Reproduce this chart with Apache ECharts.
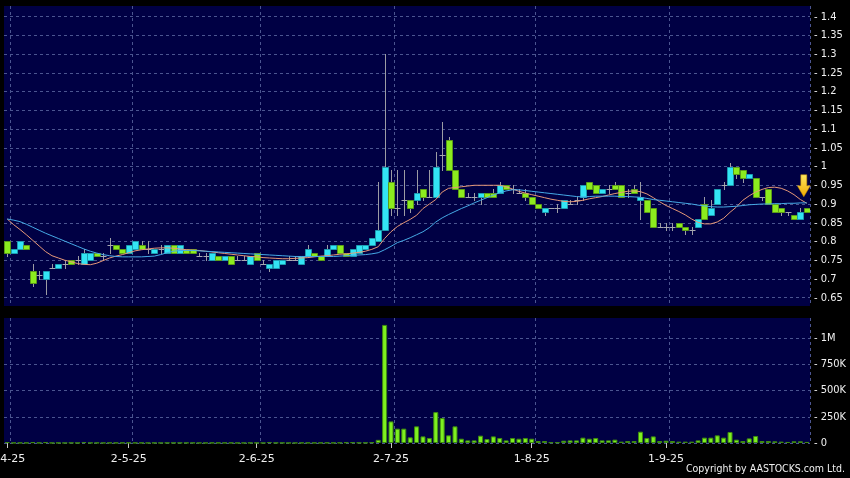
<!DOCTYPE html>
<html><head><meta charset="utf-8">
<script src="https://cdn.jsdelivr.net/npm/echarts@6/dist/echarts.min.js"></script>
<style>html,body{margin:0;padding:0;background:#000;}#c{width:850px;height:478px;}</style>
</head><body><div id="c"></div>
<script>
const dates = [
'1-4-25','2-4-25','3-4-25','7-4-25','8-4-25','9-4-25','10-4-25','11-4-25','14-4-25','15-4-25','16-4-25','17-4-25','22-4-25','23-4-25','24-4-25','25-4-25','28-4-25','29-4-25','30-4-25',
'2-5-25','6-5-25','7-5-25','8-5-25','9-5-25','12-5-25','13-5-25','14-5-25','15-5-25','16-5-25','19-5-25','20-5-25','21-5-25','22-5-25','23-5-25','26-5-25','27-5-25','28-5-25','29-5-25','30-5-25',
'2-6-25','3-6-25','4-6-25','5-6-25','6-6-25','9-6-25','10-6-25','11-6-25','12-6-25','13-6-25','16-6-25','17-6-25','18-6-25','19-6-25','20-6-25','23-6-25','24-6-25','25-6-25','26-6-25','27-6-25','30-6-25',
'2-7-25','3-7-25','4-7-25','7-7-25','8-7-25','9-7-25','10-7-25','11-7-25','14-7-25','15-7-25','16-7-25','17-7-25','18-7-25','21-7-25','22-7-25','23-7-25','24-7-25','25-7-25','28-7-25','29-7-25','30-7-25','31-7-25',
'1-8-25','4-8-25','5-8-25','6-8-25','7-8-25','8-8-25','11-8-25','12-8-25','13-8-25','14-8-25','15-8-25','18-8-25','19-8-25','20-8-25','21-8-25','22-8-25','25-8-25','26-8-25','27-8-25','28-8-25','29-8-25',
'1-9-25','2-9-25','3-9-25','4-9-25','5-9-25','8-9-25','9-9-25','10-9-25','11-9-25','12-9-25','15-9-25','16-9-25','17-9-25','18-9-25','19-9-25','22-9-25','23-9-25','24-9-25','25-9-25','26-9-25','29-9-25','30-9-25',
'2-10-25'];

const opens = [
.80,.77,.78,.79,.72,.71,.70,.73,.73,.74,.75,.75,.74,.75,.77,.76,.79,.79,.78,
.77,.78,.79,.78,.77,.78,.77,.79,.77,.78,.78,.76,.76,.75,.76,.75,.76,.75,.75,.74,
.77,.74,.73,.73,.74,.75,.75,.74,.76,.77,.76,.76,.78,.79,.77,.76,.77,.78,.79,.80,.83,
.96,.89,.91,.91,.91,.94,.92,.92,1.03,1.07,.99,.94,.92,.92,.92,.93,.93,.93,.95,.94,.93,.93,
.92,.90,.88,.89,.89,.89,.90,.91,.92,.96,.95,.93,.94,.95,.95,.93,.94,.91,.91,.89,
.84,.84,.84,.85,.84,.83,.84,.90,.87,.90,.95,.95,1.00,.99,.97,.97,.92,.94,.90,.89,.88,.87,.86,
.89];
const closes = [
.77,.78,.80,.78,.69,.71,.72,.73,.74,.74,.74,.75,.77,.77,.76,.76,.79,.78,.77,
.79,.80,.78,.78,.78,.78,.79,.77,.79,.77,.77,.76,.76,.77,.75,.76,.74,.75,.75,.76,
.75,.74,.74,.75,.75,.75,.75,.76,.78,.76,.75,.78,.79,.77,.76,.78,.79,.79,.81,.83,1.00,
.89,.89,.91,.89,.93,.92,.92,1.00,1.03,.99,.94,.92,.92,.92,.93,.92,.92,.95,.94,.94,.93,.92,
.90,.89,.89,.89,.89,.91,.90,.91,.95,.94,.93,.94,.94,.94,.92,.93,.93,.92,.88,.84,
.84,.84,.84,.84,.83,.83,.86,.86,.89,.94,.95,1.00,.98,.97,.98,.92,.92,.90,.88,.88,.88,.86,.88,
.88];
const lows = [
.76,.77,.78,.78,.68,.70,.66,.73,.73,.73,.74,.74,.74,.75,.76,.75,.77,.78,.77,
.77,.78,.78,.77,.77,.77,.77,.77,.77,.77,.77,.76,.75,.75,.75,.75,.74,.75,.75,.74,
.75,.74,.72,.73,.74,.75,.75,.74,.76,.76,.75,.76,.78,.77,.76,.76,.77,.78,.79,.80,.83,
.87,.87,.87,.88,.90,.91,.92,.92,.99,.99,.94,.92,.92,.91,.90,.92,.92,.93,.94,.93,.93,.91,
.90,.89,.87,.89,.88,.89,.90,.90,.91,.94,.93,.93,.93,.94,.92,.92,.93,.86,.88,.84,
.84,.83,.83,.84,.82,.82,.84,.86,.87,.90,.94,.95,.97,.96,.97,.92,.91,.90,.88,.87,.87,.86,.86,
.88];
const highs = [
.80,.78,.80,.79,.74,.72,.72,.74,.74,.75,.75,.76,.78,.77,.77,.77,.81,.79,.78,
.79,.80,.80,.80,.78,.79,.79,.79,.79,.78,.78,.77,.77,.77,.76,.76,.76,.76,.76,.76,
.77,.75,.74,.75,.75,.76,.76,.76,.79,.77,.76,.79,.79,.79,.77,.78,.79,.79,.81,.96,1.30,
.99,.99,.99,.91,.99,.94,.99,1.04,1.12,1.08,.99,.94,.93,.93,.93,.93,.94,.96,.95,.95,.94,.94,
.92,.90,.89,.89,.90,.91,.91,.92,.95,.96,.95,.94,.95,.96,.95,.94,.95,.96,.91,.89,
.85,.85,.85,.85,.84,.84,.86,.92,.91,.94,.96,1.01,1.00,.99,.98,.97,.92,.94,.90,.89,.88,.87,.89,
.89];
const volumes = [
8000,2000,2000,2000,8000,2000,8000,1000,2000,1000,2000,1000,8000,2000,2000,1000,2000,2000,2000,
3000,2000,2000,1000,2000,1000,2000,2000,2000,2000,2000,1000,1000,2000,2000,2000,2000,1000,1000,2000,
2000,1000,8000,2000,2000,1000,1000,2000,2000,2000,2000,3000,2000,3000,6000,6000,3000,3000,6000,30000,1127000,
206000,137000,137000,54000,159000,63000,48000,295000,238000,73000,159000,41000,25000,25000,70000,38000,63000,48000,25000,48000,41000,48000,
41000,19000,19000,6000,6000,22000,25000,25000,51000,41000,48000,25000,25000,32000,13000,19000,19000,108000,48000,63000,
19000,22000,19000,13000,13000,13000,25000,51000,51000,73000,51000,105000,32000,19000,44000,67000,19000,19000,16000,13000,10000,16000,16000,
10000];
const maShort = [
.860,.845,.832,.818,.803,.788,.773,.762,.756,.750,.746,.741,.739,.738,.742,.749,.756,.761,.765,
.770,.775,.778,.780,.782,.783,.783,.782,.780,.778,.777,.776,.774,.772,.770,.768,.766,.764,.762,.760,
.759,.757,.756,.755,.754,.754,.755,.756,.757,.759,.761,.762,.764,.766,.767,.769,.771,.774,.779,.786,.808,
.826,.840,.850,.859,.870,.888,.900,.912,.932,.942,.944,.946,.948,.950,.950,.950,.950,.950,.946,.940,.934,.929,
.925,.921,.917,.913,.910,.907,.906,.907,.910,.914,.917,.920,.924,.928,.931,.934,.935,.933,.927,.917,
.906,.896,.888,.880,.871,.860,.851,.847,.847,.852,.862,.878,.892,.910,.922,.932,.939,.944,.945,.942,.935,.925,.912,
.902];
const maLong = [
.860,.857,.853,.846,.838,.830,.822,.815,.808,.801,.794,.787,.780,.774,.769,.765,.762,.760,.759,
.759,.759,.759,.760,.761,.765,.770,.774,.776,.776,.776,.775,.774,.773,.772,.771,.770,.769,.768,.767,
.766,.765,.764,.763,.762,.761,.760,.760,.760,.760,.760,.760,.760,.761,.762,.763,.764,.765,.767,.770,.778,
.787,.797,.803,.810,.818,.826,.837,.852,.863,.872,.880,.888,.895,.903,.910,.917,.924,.930,.935,.938,.938,.936,
.934,.932,.930,.928,.926,.924,.922,.920,.919,.920,.921,.921,.921,.921,.920,.920,.919,.918,.915,.912,
.910,.908,.906,.904,.902,.900,.897,.895,.893,.892,.892,.893,.894,.896,.898,.899,.900,.900,.901,.901,.902,.902,.903,
.903];
const priceTicks = [0.65,0.7,0.75,0.8,0.85,0.9,0.95,1,1.05,1.1,1.15,1.2,1.25,1.3,1.35,1.4];
const volTicks = [0,250000,500000,750000,1000000];
const volTickLabels = ['0','250K','500K','750K','1M'];
const dateLabels = ['1-4-25','2-5-25','2-6-25','2-7-25','1-8-25','1-9-25'];

const labelIdx = dateLabels.map(d => dates.indexOf(d));
const splitIdx = labelIdx.map(i => i + 1);
const candleData = dates.map((d, i) => [i, opens[i], closes[i], lows[i], highs[i]]);
const last = dates.length - 1;

const gridLineStyle = {color: '#4b5590', width: 1, type: [3, 3]};
const font = 'DejaVu Sans';
const narrowFont = '"DejaVu Sans Condensed", "DejaVu Sans"';

function renderCandle(params, api) {
  const i = api.value(0), o = api.value(1), c = api.value(2), l = api.value(3), h = api.value(4);
  const pO = api.coord([i, o]), pC = api.coord([i, c]), pL = api.coord([i, l]), pH = api.coord([i, h]);
  const cx = Math.round(pO[0]) + 0.5;
  const ch = [{type: 'line', shape: {x1: cx, y1: Math.round(pH[1]), x2: cx, y2: Math.round(pL[1]) + 1},
    style: {stroke: '#9c9ca4', lineWidth: 1}}];
  if (o === c) {
    const y = Math.round(pO[1]) + 0.5;
    ch.push({type: 'line', shape: {x1: cx - 3, y1: y, x2: cx + 3, y2: y}, style: {stroke: '#a8a8b0', lineWidth: 1}});
  } else {
    const top = Math.round(Math.min(pO[1], pC[1])) + 0.5;
    const bot = Math.round(Math.max(pO[1], pC[1])) + 0.5;
    const up = c > o;
    ch.push({type: 'rect', shape: {x: cx - 3, y: top, width: 6, height: Math.max(bot - top, 1)},
      style: {fill: up ? '#33e4f4' : '#8cec1e', stroke: up ? '#1c9cb0' : '#5c9c18', lineWidth: 1}});
  }
  return {type: 'group', children: ch};
}

const chart = echarts.init(document.getElementById('c'), null, {renderer: 'canvas'});
chart.setOption({
  backgroundColor: '#000000',
  animation: false,
  grid: [
    {left: 4, right: 40, top: 6, height: 300, show: true, backgroundColor: '#000044', borderWidth: 0, outerBoundsMode: 'none', containLabel: false},
    {left: 4, right: 40, top: 318, height: 125, show: true, backgroundColor: '#000044', borderWidth: 0, outerBoundsMode: 'none', containLabel: false}
  ],
  xAxis: [
    {type: 'category', gridIndex: 0, data: dates, boundaryGap: true,
     axisLine: {show: false}, axisTick: {show: false}, axisLabel: {show: false},
     splitLine: {show: true, interval: (idx) => splitIdx.includes(idx), lineStyle: gridLineStyle}},
    {type: 'category', gridIndex: 1, data: dates, boundaryGap: true,
     axisLine: {show: false},
     axisTick: {show: true, alignWithLabel: true, length: 5, interval: (idx) => labelIdx.includes(idx), lineStyle: {color: '#c8c8c8'}},
     axisLabel: {show: true, interval: (idx) => labelIdx.includes(idx), color: '#f0f0f0', fontSize: 11, fontFamily: font, margin: 11},
     splitLine: {show: true, interval: (idx) => splitIdx.includes(idx), lineStyle: gridLineStyle}}
  ],
  yAxis: [
    {type: 'value', gridIndex: 0, position: 'right', min: 0.6278, max: 1.4286,
     axisLine: {show: false}, axisTick: {show: false, customValues: priceTicks},
     axisLabel: {customValues: priceTicks, color: '#f0f0f0', fontSize: 11, fontFamily: narrowFont, margin: 4,
       formatter: v => '- ' + String(Number(v.toFixed(2)))},
     splitLine: {show: true, lineStyle: gridLineStyle}},
    {type: 'value', gridIndex: 1, position: 'right', min: 0, max: 1193000,
     axisLine: {show: false}, axisTick: {show: false, customValues: volTicks},
     axisLabel: {customValues: volTicks, color: '#f0f0f0', fontSize: 11, fontFamily: narrowFont, margin: 4,
       formatter: v => '- ' + volTickLabels[volTicks.indexOf(v)]},
     splitLine: {show: true, lineStyle: gridLineStyle}}
  ],
  series: [
    {type: 'custom', name: 'price', xAxisIndex: 0, yAxisIndex: 0, data: candleData,
     encode: {x: 0, y: [1, 2, 3, 4]}, renderItem: renderCandle, clip: true, z: 3},
    {type: 'line', name: 'MA short', xAxisIndex: 0, yAxisIndex: 0, data: maShort, symbol: 'none',
     lineStyle: {color: '#e69878', width: 1}, z: 4,
     markPoint: {symbol: 'path://M3.5,0 L9.5,0 L9.5,11 L13,11 L6.5,22 L0,11 L3.5,11 Z', symbolSize: [13, 22],
       symbolOffset: [-3, -22], label: {show: false},
       itemStyle: {color: new echarts.graphic.LinearGradient(0, 0, 0, 1, [{offset: 0, color: '#ffe860'}, {offset: 1, color: '#f0a800'}]),
         borderColor: '#c88a00', borderWidth: 0.5},
       data: [{coord: [last, highs[last]]}]}},
    {type: 'line', name: 'MA long', xAxisIndex: 0, yAxisIndex: 0, data: maLong, symbol: 'none',
     lineStyle: {color: '#46aae6', width: 1}, z: 4},
    {type: 'bar', name: 'volume', xAxisIndex: 1, yAxisIndex: 1, data: volumes, barWidth: 5,
     itemStyle: {color: '#7ef020', borderColor: '#3e8a10', borderWidth: 1}}
  ],
  graphic: [
    {type: 'text', right: 5, top: 464, style: {text: 'Copyright by AASTOCKS.com Ltd.', fill: '#f0f0f0', font: '10.5px "DejaVu Sans Condensed", "DejaVu Sans"'}}
  ]
});
</script></body></html>
